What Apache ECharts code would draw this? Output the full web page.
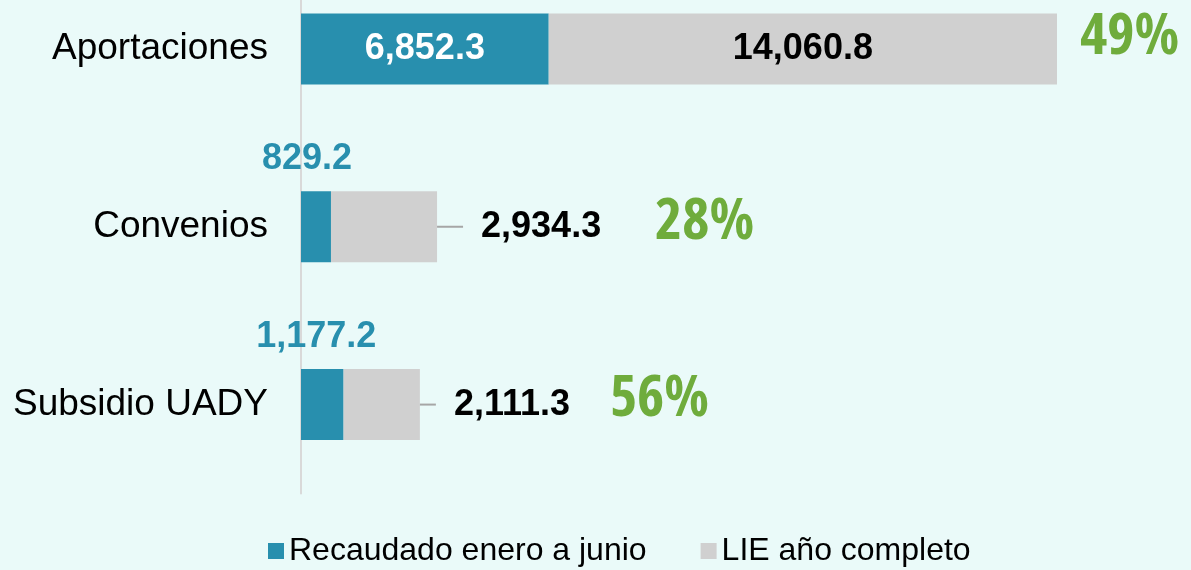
<!DOCTYPE html>
<html>
<head>
<meta charset="utf-8">
<script src="https://cdn.jsdelivr.net/npm/echarts@6/dist/echarts.min.js"></script>
<style>
html,body{margin:0;padding:0;background:#eafaf9;}
#c{width:1191px;height:570px;}
</style>
</head>
<body>
<div id="c"></div>
<script>
const categories = ['Aportaciones', 'Convenios', 'Subsidio UADY'];
const recaudado = [6852.3, 829.2, 1177.2];
const lieAnual = [14060.8, 2934.3, 2111.3];
const legendNames = ['Recaudado enero a junio', 'LIE año completo'];

const BLUE = '#288fae';
const GRAY = '#d0d0d0';
const GREEN = '#6fac3c';
const FONT = '"Liberation Sans", Arial, sans-serif';
const NARROW = '"Open Sans", "DejaVu Sans", sans-serif';

function fmt(v) {
  return v.toLocaleString('en-US', {minimumFractionDigits: 1, maximumFractionDigits: 1});
}
function pct(i) {
  return Math.round(recaudado[i] / lieAnual[i] * 100) + '%';
}

const blueData = recaudado.map((v, i) => i === 0
  ? {value: v, label: {position: 'inside', color: '#ffffff'}}
  : {value: v, label: {position: 'top', distance: 14, color: BLUE, offset: [i === 1 ? -9 : -6, 0]}});

const lineW = [0, 26, 16];
const grayData = lieAnual.map((v, i) => i === 0
  ? {value: v, label: {position: 'inside', color: '#000000'}}
  : {value: v, label: {position: 'right', distance: 0}});

const pctDist = [23, 218, 190];
const pctOff = [[0, -11], [0, -4], [0, -5]];
const pctData = categories.map((c, i) => ({
  value: [recaudado[i] + lieAnual[i], i],
  label: {distance: pctDist[i], offset: pctOff[i]}
}));

const chart = echarts.init(document.getElementById('c'));
chart.setOption({
  backgroundColor: '#eafaf9',
  animation: false,
  grid: {left: 301, right: 22.4, top: -40, bottom: 76.5, containLabel: false, outerBoundsMode: 'none'},
  legend: {
    data: legendNames,
    left: 268, top: 535, padding: 0,
    icon: 'rect', itemWidth: 16, itemHeight: 16, itemGap: 54,
    textStyle: {fontSize: 32, fontFamily: FONT, color: '#000'}
  },
  xAxis: {type: 'value', min: 0, max: 24000, show: false},
  yAxis: {
    type: 'category', data: categories, inverse: true,
    axisLine: {show: true, lineStyle: {color: '#d9d9d9', width: 2}},
    axisTick: {show: false},
    axisLabel: {fontSize: 37, fontFamily: FONT, color: '#000', margin: 33}
  },
  series: [
    {
      name: legendNames[0], type: 'bar', stack: 'a', barWidth: 71,
      itemStyle: {color: BLUE},
      label: {show: true, fontSize: 36, fontWeight: 'bold', fontFamily: FONT,
        formatter: p => fmt(p.value)},
      data: blueData
    },
    {
      name: legendNames[1], type: 'bar', stack: 'a', barWidth: 71,
      itemStyle: {color: GRAY},
      label: {
        show: true, fontSize: 36, fontWeight: 'bold', fontFamily: FONT,
        formatter: p => p.dataIndex === 0 ? fmt(p.value) : '{l' + p.dataIndex + '| }{v|' + fmt(p.value) + '}',
        rich: {
          l1: {width: lineW[1], height: 2, backgroundColor: '#a6a6a6', fontSize: 2},
          l2: {width: lineW[2], height: 2, backgroundColor: '#a6a6a6', fontSize: 2},
          v: {fontSize: 36, fontWeight: 'bold', fontFamily: FONT, color: '#000', padding: [0, 0, 0, 18]}
        }
      },
      data: grayData
    },
    {
      name: 'pct', type: 'scatter', symbolSize: 0, silent: true,
      itemStyle: {opacity: 1},
      label: {show: true, position: 'right', fontSize: 58, fontWeight: 'bold', fontStyle: 'condensed',
        fontFamily: NARROW, color: GREEN, opacity: 1,
        formatter: p => pct(p.dataIndex)},
      data: pctData
    }
  ]
});
</script>
</body>
</html>
